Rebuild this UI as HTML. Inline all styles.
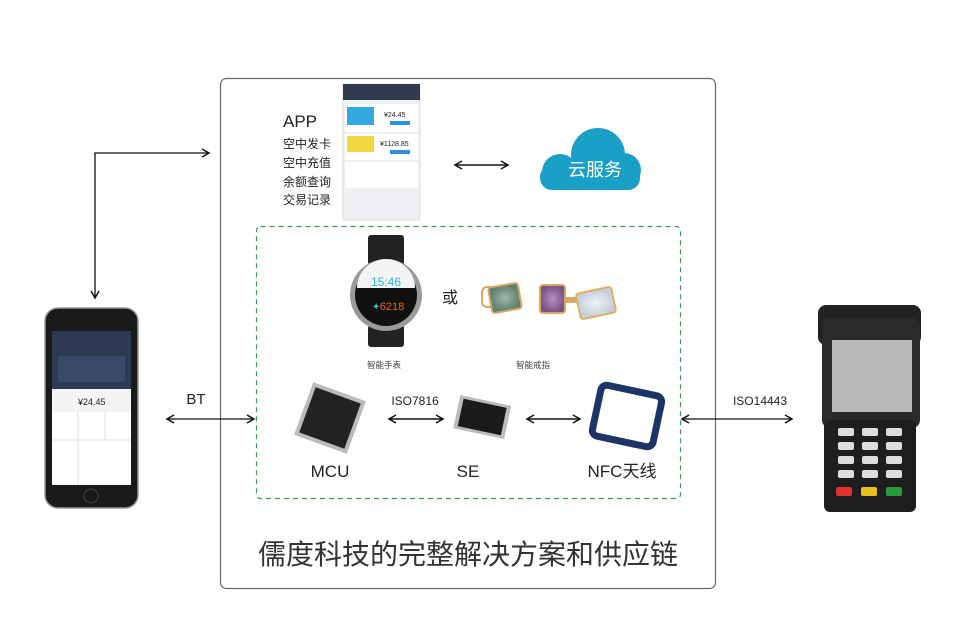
<!DOCTYPE html>
<html><head><meta charset="utf-8"><style>
html,body{margin:0;padding:0;background:#fff;}
svg{display:block;font-family:"Liberation Sans","Noto Sans CJK SC",sans-serif;}
</style></head><body>
<svg width="960" height="629" viewBox="0 0 960 629" xmlns="http://www.w3.org/2000/svg">
<defs>
<marker id="a" markerWidth="10" markerHeight="10" refX="8" refY="5" orient="auto-start-reverse" markerUnits="userSpaceOnUse">
<path d="M1,1 L8,5 L1,9" fill="none" stroke="#111" stroke-width="1.5"/></marker>
<radialGradient id="ring1"><stop offset="0" stop-color="#9fb8a8"/><stop offset="1" stop-color="#5f8070"/></radialGradient>
<radialGradient id="ring2"><stop offset="0" stop-color="#b690c0"/><stop offset="1" stop-color="#7a5088"/></radialGradient>
<radialGradient id="ring3"><stop offset="0" stop-color="#eef2f6"/><stop offset="1" stop-color="#c6d0dc"/></radialGradient>
</defs>
<rect width="960" height="629" fill="#fff"/>
<rect x="220.5" y="78.5" width="495" height="510" rx="6" fill="none" stroke="#666" stroke-width="1.2"/>
<rect x="256.5" y="226.5" width="424" height="272" rx="4" fill="none" stroke="#3a9a5a" stroke-width="1.2" stroke-dasharray="5,4"/>

<path d="M95,298 L95,153 L209,153" fill="none" stroke="#111" stroke-width="1.3" marker-start="url(#a)" marker-end="url(#a)"/>

<text x="283" y="127" font-size="17" fill="#222">APP</text>
<g font-size="12" fill="#222">
<text x="283" y="148">空中发卡</text><text x="283" y="167">空中充值</text>
<text x="283" y="186">余额查询</text><text x="283" y="204">交易记录</text></g>
<rect x="343" y="84" width="77" height="136" fill="#eef0f3" stroke="#ccc" stroke-width="0.6"/>
<rect x="343" y="84" width="77" height="16" fill="#2f3a4f"/>
<rect x="345" y="104" width="73" height="28" fill="#fff"/>
<rect x="347" y="107" width="27" height="18" fill="#35a8e0"/>
<text x="384" y="117" font-size="7" fill="#222">¥24.45</text>
<rect x="390" y="121" width="20" height="4" fill="#2b8fe0"/>
<rect x="345" y="134" width="73" height="26" fill="#fff"/>
<rect x="347" y="136" width="27" height="16" fill="#f1d940"/>
<text x="380" y="146" font-size="7" fill="#222">¥1128.85</text>
<rect x="390" y="150" width="20" height="4" fill="#2b8fe0"/>
<rect x="345" y="162" width="73" height="26" fill="#fff"/>

<line x1="455" y1="165" x2="508" y2="165" stroke="#111" stroke-width="1.4" marker-start="url(#a)" marker-end="url(#a)"/>

<g fill="#1a9fc6">
<circle cx="598" cy="155" r="27"/><circle cx="560" cy="172" r="18"/><circle cx="624" cy="170" r="17"/>
<rect x="540" y="165" width="100" height="25" rx="12"/></g>
<text x="595" y="176" font-size="18" fill="#fff" text-anchor="middle">云服务</text>

<rect x="368" y="235" width="36" height="30" fill="#222" rx="3"/>
<rect x="368" y="325" width="36" height="22" fill="#222" rx="3"/>
<circle cx="386" cy="295" r="36" fill="#9a9a9a"/>
<circle cx="386" cy="295" r="31" fill="#111"/>
<path d="M357,288 A29,29 0 0 1 415,288 Z" fill="#f4f4f4"/>
<text x="386" y="286" font-size="12" fill="#2bb7d8" text-anchor="middle">15:46</text>
<text x="392" y="310" font-size="11" fill="#e8651a" text-anchor="middle">6218</text>
<text x="372" y="310" font-size="10" fill="#2bc8c0">✦</text>
<text x="384" y="368" font-size="8.5" fill="#444" text-anchor="middle">智能手表</text>
<text x="450" y="303" font-size="16" fill="#222" text-anchor="middle">或</text>
<rect x="482" y="287" width="18" height="20" fill="none" stroke="#d8a860" stroke-width="2" rx="5"/>
<rect x="490" y="285" width="30" height="26" fill="url(#ring1)" stroke="#d8a860" stroke-width="2" rx="3" transform="rotate(-10 505 298)"/>
<rect x="540" y="285" width="25" height="28" fill="url(#ring2)" stroke="#d8a860" stroke-width="2" rx="3"/>
<rect x="564" y="297" width="14" height="6" fill="#d8a860"/>
<rect x="578" y="290" width="36" height="26" fill="url(#ring3)" stroke="#e0b060" stroke-width="2" rx="3" transform="rotate(-12 596 303)"/>
<text x="533" y="368" font-size="8.5" fill="#444" text-anchor="middle">智能戒指</text>

<g transform="rotate(20 330 418)">
<rect x="302" y="390" width="56" height="56" fill="#bbb"/>
<rect x="306" y="394" width="48" height="48" fill="#222"/></g>
<text x="415" y="405" font-size="12" fill="#222" text-anchor="middle">ISO7816</text>
<line x1="389" y1="419" x2="443" y2="419" stroke="#111" stroke-width="1.4" marker-start="url(#a)" marker-end="url(#a)"/>
<g transform="rotate(12 482 418)">
<rect x="456" y="400" width="52" height="34" fill="#bbb"/>
<rect x="460" y="403" width="44" height="28" fill="#1a1a1a"/></g>
<line x1="527" y1="419" x2="580" y2="419" stroke="#111" stroke-width="1.4" marker-start="url(#a)" marker-end="url(#a)"/>
<rect x="596" y="390" width="62" height="52" rx="6" fill="none" stroke="#1c3566" stroke-width="7" transform="rotate(12 627 416)"/>
<g font-size="17" fill="#222" text-anchor="middle">
<text x="330" y="477">MCU</text><text x="468" y="477">SE</text><text x="622" y="477">NFC天线</text></g>

<text x="196" y="404" font-size="15" fill="#222" text-anchor="middle">BT</text>
<line x1="167" y1="419" x2="254" y2="419" stroke="#111" stroke-width="1.3" marker-start="url(#a)" marker-end="url(#a)"/>
<text x="760" y="405" font-size="12" fill="#222" text-anchor="middle">ISO14443</text>
<line x1="682" y1="419" x2="792" y2="419" stroke="#111" stroke-width="1.3" marker-start="url(#a)" marker-end="url(#a)"/>

<rect x="45" y="308" width="93" height="200" rx="13" fill="#1a1a1a" stroke="#999" stroke-width="1.5"/>
<rect x="52" y="331" width="79" height="154" fill="#f4f4f6"/>
<rect x="52" y="331" width="79" height="58" fill="#2d3a52"/>
<rect x="58" y="356" width="67" height="26" rx="2" fill="#3a4a68"/>
<text x="78" y="405" font-size="9" fill="#222">¥24.45</text>
<rect x="52" y="412" width="79" height="72" fill="#fff"/>
<line x1="52" y1="440" x2="131" y2="440" stroke="#ddd"/>
<line x1="78" y1="412" x2="78" y2="484" stroke="#ddd"/>
<line x1="105" y1="412" x2="105" y2="440" stroke="#ddd"/>
<circle cx="91" cy="496" r="7" fill="none" stroke="#444" stroke-width="1"/>

<rect x="818" y="305" width="103" height="40" rx="8" fill="#222"/>
<rect x="822" y="318" width="98" height="110" rx="8" fill="#2a2a2a"/>
<rect x="832" y="340" width="80" height="72" fill="#b8b8b8"/>
<rect x="824" y="420" width="92" height="92" rx="6" fill="#1e1e1e"/>
<g fill="#ddd">
<rect x="838" y="428" width="16" height="8" rx="2"/><rect x="862" y="428" width="16" height="8" rx="2"/><rect x="886" y="428" width="16" height="8" rx="2"/>
<rect x="838" y="442" width="16" height="8" rx="2"/><rect x="862" y="442" width="16" height="8" rx="2"/><rect x="886" y="442" width="16" height="8" rx="2"/>
<rect x="838" y="456" width="16" height="8" rx="2"/><rect x="862" y="456" width="16" height="8" rx="2"/><rect x="886" y="456" width="16" height="8" rx="2"/>
<rect x="838" y="470" width="16" height="8" rx="2"/><rect x="862" y="470" width="16" height="8" rx="2"/><rect x="886" y="470" width="16" height="8" rx="2"/></g>
<rect x="836" y="487" width="16" height="9" rx="2" fill="#d33"/>
<rect x="861" y="487" width="16" height="9" rx="2" fill="#e8c020"/>
<rect x="886" y="487" width="16" height="9" rx="2" fill="#2a9a3a"/>

<text x="468" y="564" font-size="28" fill="#333" text-anchor="middle">儒度科技的完整解决方案和供应链</text>
</svg>
</body></html>
